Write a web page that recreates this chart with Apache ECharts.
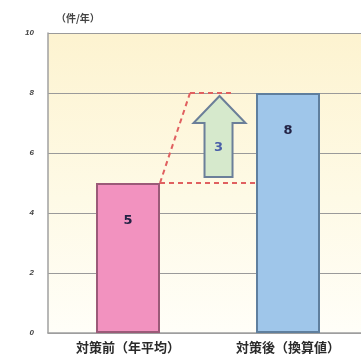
<!DOCTYPE html>
<html>
<head>
<meta charset="utf-8">
<script src="https://cdn.jsdelivr.net/npm/echarts@6/dist/echarts.min.js"></script>
<style>
  html, body { margin: 0; padding: 0; background: #ffffff; }
</style>
</head>
<body>
<div id="main" style="width: 361px;height:357px;"></div>

<script type="text/javascript">
    // 图表数据
    var categories = ['対策前（年平均）', '対策後（換算値）'];
    var values = [5, 8];
    var barColors = ['#f292bf', '#9fc6ea'];
    var barBorders = ['#9b5a78', '#5f7f9e'];
    var yTicks = [0, 2, 4, 6, 8, 10];
    var increase = values[1] - values[0];

    var myChart = echarts.init(document.getElementById('main'));

    var labelFont = '"Noto Sans CJK JP", sans-serif';

    var option = {
        backgroundColor: '#ffffff',
        animation: false,
        grid: {
            left: 48, width: 320, top: 33, bottom: 24,
            outerBoundsMode: 'none',
            containLabel: false,
            show: true,
            borderWidth: 0,
            backgroundColor: new echarts.graphic.LinearGradient(0, 0, 0, 1, [
                { offset: 0, color: '#fdf3d0' },
                { offset: 0.55, color: '#fefae6' },
                { offset: 1, color: '#fffef8' }
            ])
        },
        xAxis: {
            type: 'category',
            data: categories,
            axisLine: { show: true, lineStyle: { color: '#a0a0a0', width: 1.5 } },
            axisTick: { show: false },
            axisLabel: {
                color: '#2a2a2a',
                fontFamily: labelFont,
                fontWeight: 'bold',
                fontSize: 13,
                margin: 8
            }
        },
        yAxis: {
            type: 'value',
            min: yTicks[0],
            max: yTicks[yTicks.length - 1],
            interval: 2,
            name: '（件/年）',
            nameGap: 10,
            nameTextStyle: {
                color: '#444', fontFamily: labelFont, fontWeight: 'bold', fontSize: 10,
                align: 'left', padding: [0, 0, 0, 8]
            },
            axisLine: { show: true, lineStyle: { color: '#a0a0a0', width: 1.5 } },
            axisTick: { show: false },
            splitLine: { lineStyle: { color: '#9a9a9a', width: 1 } },
            axisLabel: {
                color: '#444',
                fontWeight: 'bold',
                fontStyle: 'italic',
                fontSize: 8,
                margin: 14
            }
        },
        series: [{
            type: 'bar',
            barWidth: 64,
            data: values.map(function (v, i) {
                return {
                    value: v,
                    itemStyle: { color: barColors[i], borderColor: barBorders[i], borderWidth: 2 },
                    label: {
                        show: true,
                        position: ['50%', 38],
                        align: 'center',
                        verticalAlign: 'middle',
                        color: '#222244',
                        fontWeight: 'bold',
                        fontSize: 13,
                        fontFamily: 'DejaVu Sans'
                    }
                };
            }),
            z: 2
        }, {
            // 增加箭头和虚线
            type: 'custom',
            data: [[0, values[0], values[1]]],
            z: 3,
            renderItem: function (params, api) {
                var lo = api.value(1), hi = api.value(2);
                var half = 32;
                var p0 = api.coord([0, lo]);
                var p1 = api.coord([1, hi]);
                var xL = p0[0] + half, xR = p1[0] - half;
                var yLo = p0[1], yHi = p1[1];
                var unit = api.size([0, 1])[1];
                var cx = xL + (xR - xL) * 0.62;
                var tip = yHi + unit * 0.1;
                var headBase = yHi + unit * 1.0;
                var bottom = yLo - unit * 0.2;
                var dash = { stroke: '#e06060', lineWidth: 2, lineDash: [5, 4], fill: null };
                return {
                    type: 'group',
                    children: [
                        { type: 'line', shape: { x1: xL, y1: yLo, x2: xR, y2: yLo }, style: dash },
                        { type: 'line', shape: { x1: xL, y1: yLo, x2: xL + 30, y2: yHi }, style: dash },
                        { type: 'line', shape: { x1: xL + 30, y1: yHi, x2: xR - 22, y2: yHi }, style: dash },
                        {
                            type: 'polygon',
                            shape: {
                                points: [
                                    [cx, tip],
                                    [cx + 26, headBase],
                                    [cx + 13, headBase],
                                    [cx + 13, bottom],
                                    [cx - 15, bottom],
                                    [cx - 15, headBase],
                                    [cx - 26, headBase]
                                ]
                            },
                            style: { fill: '#d6e9cc', stroke: '#6b7f99', lineWidth: 2 }
                        },
                        {
                            type: 'text',
                            style: {
                                text: String(increase),
                                x: cx - 1, y: (headBase + bottom) / 2 - 2,
                                align: 'center', verticalAlign: 'middle',
                                fill: '#4a5fa8', fontWeight: 'bold', fontSize: 13,
                                fontFamily: 'DejaVu Sans'
                            }
                        }
                    ]
                };
            }
        }]
    };

    myChart.setOption(option);
</script>
</body>
</html>
